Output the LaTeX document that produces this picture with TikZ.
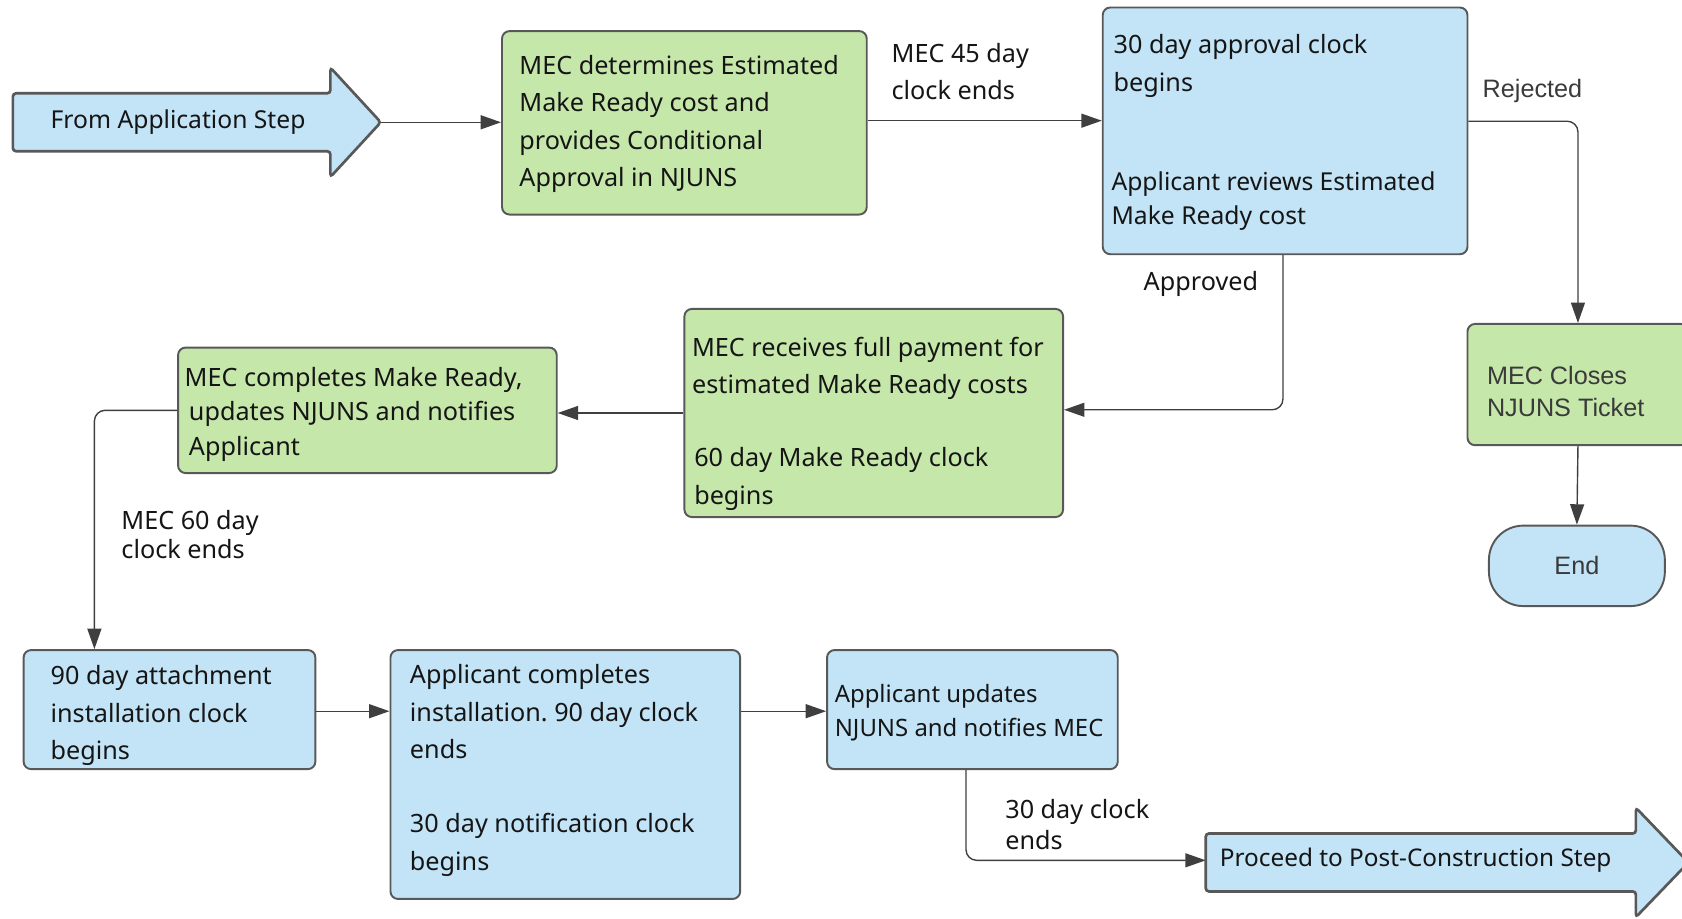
\documentclass[tikz,border=0pt]{standalone}
\usepackage{fontspec}
\setmainfont{Noto Sans}
\newfontfamily\arialf{Liberation Sans}
\usetikzlibrary{arrows.meta}
\frenchspacing
\definecolor{bfill}{HTML}{C2E4F6}
\definecolor{gfill}{HTML}{C6E7AA}
\definecolor{bord}{HTML}{585858}
\definecolor{conn}{HTML}{3F3F3F}
\definecolor{txtc}{HTML}{151515}
\definecolor{gtxt}{HTML}{3A3A3A}
\newcommand{\fs}[1]{\fontsize{23.5}{#1}\selectfont}
\newcommand{\st}{\rule{0pt}{18pt}}
\begin{document}
\begin{tikzpicture}[x=1pt,y=-1pt,
  box/.style={draw=bord, line width=1.8pt, rounded corners=7pt, inner sep=0pt},
  bbox/.style={box, fill=bfill},
  gbox/.style={box, fill=gfill},
  tx/.style={inner sep=0pt, anchor=north west, align=left, text=txtc},
  lbl/.style={inner sep=0pt, anchor=west, text=txtc, font=\fs{28}},
  arl/.style={inner sep=0pt, text=gtxt, font=\arialf\fontsize{23.5}{30}\selectfont},
  conn/.style={draw=conn, line width=1.3pt, rounded corners=10pt, -{Triangle[length=19pt,width=13pt]}},
  barrow/.style={draw=bord, line width=2.5pt, fill=bfill, rounded corners=3pt}
]
\useasboundingbox (0,0) rectangle (1568,856);
\clip (0,0) rectangle (1568,856);

% block arrows
\draw[barrow] (12,87) -- (308,87) -- (308,63) -- (355,114) -- (308,165) -- (308,141) -- (12,141) -- cycle;
\coordinate (fromtip) at (355,114);
\node[inner sep=0pt, text=txtc, font=\fontsize{23}{28}\selectfont] (fromtxt) at (166,114) {From Application Step};

\draw[barrow] (1124,777) -- (1525,777) -- (1525,753) -- (1574,804) -- (1525,855) -- (1525,831) -- (1124,831) -- cycle;
\coordinate (procL) at (1124,802);
\node[lbl, font=\fontsize{22.7}{28}\selectfont] (proctxt) at (1137,802) {Proceed to Post-Construction Step};

% boxes
\node[gbox, minimum width=340pt, minimum height=171pt] (A) at (638,114.5) {};
\node[bbox, minimum width=340pt, minimum height=230pt] (B) at (1198,122) {};
\node[gbox, minimum width=353pt, minimum height=194pt] (C) at (814.5,385) {};
\node[gbox, minimum width=353pt, minimum height=117pt] (D) at (342.5,382.5) {};
\node[bbox, minimum width=272pt, minimum height=111pt] (E) at (158,661.5) {};
\node[bbox, minimum width=326pt, minimum height=232pt] (F) at (527,722) {};
\node[bbox, minimum width=271pt, minimum height=111pt] (G) at (906.5,661.5) {};
\node[gbox, minimum width=206pt, minimum height=113pt] (K) at (1471,358.5) {};
\node[bbox, rounded corners=32pt, minimum width=164pt, minimum height=75pt] (End) at (1470,527.5) {};

% box texts
\node[tx, font=\fs{35}] (At) at (484,51) {\st MEC determines Estimated\\Make Ready cost and\\provides Conditional\\Approval in NJUNS};
\node[tx, font=\fs{35}] (Bt1) at (1038,32) {\st 30 day approval clock\\begins};
\node[tx, font=\fontsize{23}{32}\selectfont] (Bt2) at (1036,159) {\st Applicant reviews Estimated\\Make Ready cost};
\node[tx, font=\fs{35}] (Ct1) at (645,314) {\st MEC receives full payment for\\estimated Make Ready costs};
\node[tx, font=\fs{35}] (Ct2) at (647,417) {\st 60 day Make Ready clock\\begins};
\node[tx, font=\fs{32}] (Dt) at (172,342) {\st MEC completes Make Ready,\\\,updates NJUNS and notifies\\\,Applicant};
\node[tx, font=\fs{35}] (Et) at (47,620) {\st 90 day attachment\\installation clock\\begins};
\node[tx, font=\fs{35}] (Ft1) at (382,619) {\st Applicant completes\\installation. 90 day clock\\ends};
\node[tx, font=\fs{35}] (Ft2) at (382,758) {\st 30 day notification clock\\begins};
\node[tx, font=\fontsize{22.3}{31}\selectfont] (Gt) at (778,637) {\st Applicant updates\\NJUNS and notifies MEC};
\node[arl, anchor=north west, align=left] (Kt) at (1386,340) {\st MEC Closes\\NJUNS Ticket};
\node[arl] (Endt) at (End) {End};

% connectors
\draw[conn] (fromtip) -- (fromtip -| A.west);
\draw[conn] ([yshift=2pt]A.east) -- ([yshift=2pt]A.east -| B.west);
\draw[conn] ([yshift=9pt]B.east) -| (K.north);
\draw[conn] (K.south) -- (End.north);
\draw[conn] ([xshift=-2pt]B.south) |- ([yshift=3pt]C.east);
\draw[conn] (C.west) -- (C.west -| D.east);
\draw[conn] (D.west) -| ([xshift=-70pt]E.north);
\draw[conn] ([yshift=-1.5pt]E.east) -- ([yshift=-1.5pt]E.east -| F.west);
\draw[conn] ([yshift=-1.5pt]E.east -| F.east) -- ([yshift=-1.5pt]E.east -| G.west);
\draw[conn] ([xshift=-6pt]G.south) |- (procL);

% connector labels
\node[tx, font=\fs{35}] (l45) at (831,40) {\st MEC 45 day\\clock ends};
\node[arl, anchor=west] (lrej) at (1382,85) {Rejected};
\node[lbl] (lapp) at (1066,265) {Approved};
\node[tx, font=\fs{27}] (l60) at (113,475) {\st MEC 60 day\\clock ends};
\node[tx, font=\fs{29}] (l30) at (937,745) {\st 30 day clock\\ends};
\end{tikzpicture}
\end{document}
